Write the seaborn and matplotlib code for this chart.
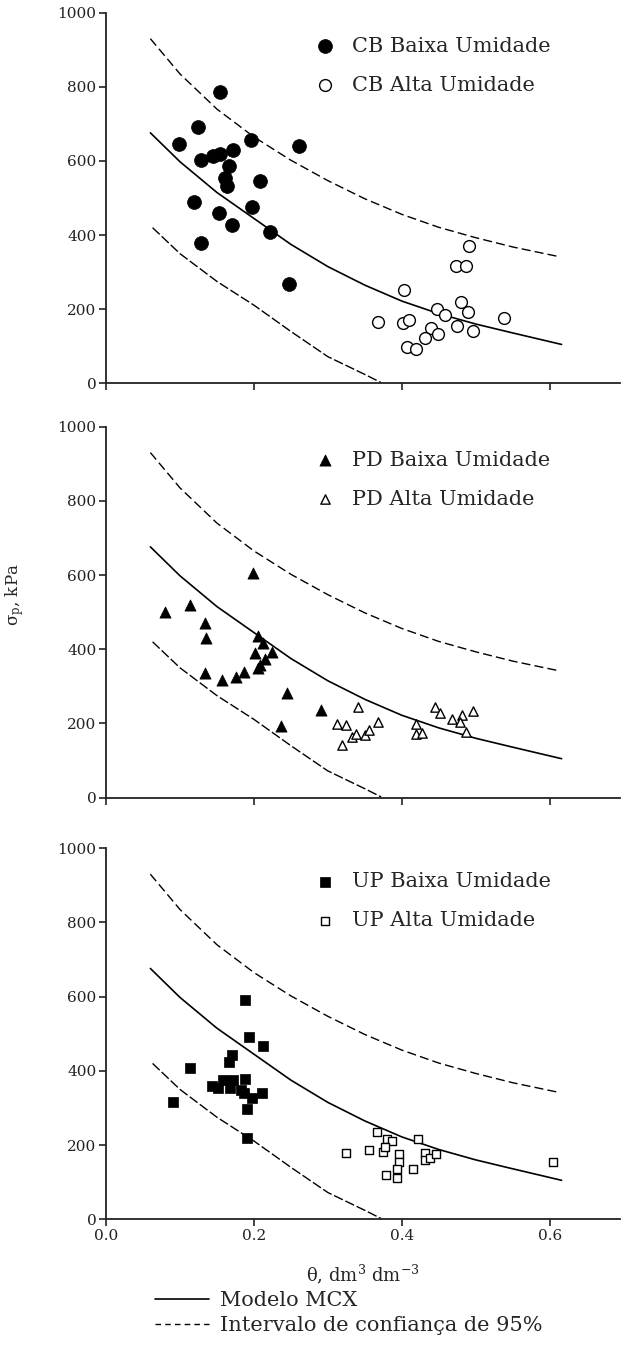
"""
Pressão de preconsolidação em função da umidade do solo
três painéis (CB, PD, UP) com modelo MCX e intervalo de confiança
"""

import matplotlib
matplotlib.use('Agg')
import matplotlib.pyplot as plt
from matplotlib.lines import Line2D
import pandas as pd
import seaborn as sns

# curvas (iguais nos três painéis)
theta_modelo = [0.06, 0.10, 0.15, 0.20, 0.25, 0.30, 0.35, 0.40, 0.45, 0.50, 0.55, 0.616]
sigma_modelo = [676, 598, 515, 445, 375, 315, 265, 222, 188, 160, 136, 105]
theta_sup = [0.06, 0.10, 0.15, 0.20, 0.25, 0.30, 0.35, 0.40, 0.45, 0.50, 0.55, 0.61]
sigma_sup = [930, 835, 740, 665, 602, 547, 498, 456, 421, 393, 368, 343]
theta_inf = [0.063, 0.10, 0.15, 0.20, 0.25, 0.30, 0.35, 0.372]
sigma_inf = [420, 350, 275, 211, 140, 72, 24, 2]

# CB
cb_baixa_x = [0.154, 0.124, 0.099, 0.128, 0.145, 0.154, 0.172, 0.196, 0.261, 0.166,
              0.161, 0.163, 0.208, 0.119, 0.153, 0.198, 0.171, 0.128, 0.222, 0.247]
cb_baixa_y = [785, 692, 646, 603, 614, 618, 629, 656, 641, 586,
              553, 533, 546, 490, 460, 477, 427, 380, 409, 268]
cb_alta_x = [0.491, 0.473, 0.487, 0.403, 0.368, 0.402, 0.410, 0.448, 0.458, 0.480,
             0.490, 0.439, 0.449, 0.432, 0.474, 0.496, 0.538, 0.407, 0.419]
cb_alta_y = [371, 317, 317, 252, 166, 162, 171, 201, 184, 219,
             192, 150, 132, 123, 156, 141, 175, 99, 94]

# PD
pd_baixa_x = [0.199, 0.080, 0.114, 0.134, 0.135, 0.206, 0.212, 0.201, 0.225, 0.215,
              0.208, 0.206, 0.134, 0.157, 0.176, 0.186, 0.245, 0.291, 0.237]
pd_baixa_y = [605, 501, 519, 472, 429, 436, 416, 391, 392, 373,
              358, 349, 335, 317, 326, 340, 283, 236, 193]
pd_alta_x = [0.341, 0.313, 0.325, 0.319, 0.332, 0.338, 0.350, 0.355, 0.368, 0.419,
             0.419, 0.427, 0.445, 0.451, 0.468, 0.481, 0.478, 0.496, 0.487]
pd_alta_y = [245, 199, 196, 142, 164, 171, 169, 181, 205, 199,
             172, 175, 243, 229, 211, 223, 205, 234, 176]

# UP
up_baixa_x = [0.188, 0.194, 0.212, 0.171, 0.166, 0.113, 0.144, 0.151, 0.158, 0.172,
              0.168, 0.188, 0.183, 0.186, 0.198, 0.211, 0.091, 0.190, 0.190]
up_baixa_y = [591, 490, 468, 443, 425, 408, 360, 353, 376, 376,
              353, 377, 349, 340, 328, 340, 317, 297, 220]
up_alta_x = [0.366, 0.380, 0.387, 0.422, 0.324, 0.356, 0.375, 0.377, 0.396, 0.396,
             0.394, 0.393, 0.378, 0.415, 0.432, 0.431, 0.438, 0.446, 0.605]
up_alta_y = [234, 216, 212, 217, 178, 187, 182, 194, 175, 155,
             136, 112, 118, 135, 178, 160, 164, 175, 155]

paineis = [
    ('CB', 'o', (cb_baixa_x, cb_baixa_y, 100), (cb_alta_x, cb_alta_y, 72)),
    ('PD', '^', (pd_baixa_x, pd_baixa_y, 65), (pd_alta_x, pd_alta_y, 45)),
    ('UP', 's', (up_baixa_x, up_baixa_y, 50), (up_alta_x, up_alta_y, 38)),
]

sns.set_style('ticks')
plt.rcParams['font.family'] = ['DejaVu Serif']
plt.rcParams['mathtext.fontset'] = 'dejavuserif'

fig = plt.figure(figsize=(6.25, 13.57), dpi=100)
posicoes = [
    [106 / 625, 0.7175, 514 / 625, 0.2731],
    [106 / 625, 0.4122, 514 / 625, 0.2734],
    [106 / 625, 0.1015, 514 / 625, 0.2734],
]

curvas = pd.DataFrame({'theta': theta_modelo, 'sigma': sigma_modelo})
curva_sup = pd.DataFrame({'theta': theta_sup, 'sigma': sigma_sup})
curva_inf = pd.DataFrame({'theta': theta_inf, 'sigma': sigma_inf})

for i, (nome, marcador, baixa, alta) in enumerate(paineis):
    ax = fig.add_axes(posicoes[i])

    sns.lineplot(data=curvas, x='theta', y='sigma', ax=ax, color='black', lw=1.2)
    sns.lineplot(data=curva_sup, x='theta', y='sigma', ax=ax, color='black', lw=1.0,
                 linestyle=(0, (6.5, 3)))
    sns.lineplot(data=curva_inf, x='theta', y='sigma', ax=ax, color='black', lw=1.0,
                 linestyle=(0, (7, 2)))

    sns.scatterplot(x=baixa[0], y=baixa[1], ax=ax, marker=marcador, s=baixa[2],
                    color='black', edgecolor='black', linewidth=0.5,
                    label=f'{nome} Baixa Umidade', zorder=3)
    sns.scatterplot(x=alta[0], y=alta[1], ax=ax, marker=marcador, s=alta[2],
                    color='white', edgecolor='black', linewidth=1.0,
                    label=f'{nome} Alta Umidade', zorder=3)

    ax.set_xlim(0, 0.695)
    ax.set_ylim(0, 1000)
    ax.set_xticks([0.0, 0.2, 0.4, 0.6])
    ax.set_yticks([0, 200, 400, 600, 800, 1000])
    ax.set_xticklabels(['0.0', '0.2', '0.4', '0.6'])
    ax.set_xlabel('')
    ax.set_ylabel('')
    sns.despine(ax=ax)
    for s in ['left', 'bottom']:
        ax.spines[s].set_linewidth(1.3)
        ax.spines[s].set_color('#222222')
    ax.tick_params(direction='out', length=5, width=1.2, labelsize=11, pad=2,
                   colors='#222222')
    if i < 2:
        ax.tick_params(labelbottom=False)
    else:
        ax.set_xlabel('θ, dm$^{3}$ dm$^{-3}$', fontsize=13, labelpad=14)

    ax.legend(loc='upper left', bbox_to_anchor=(0.385, 0.935), frameon=False,
              fontsize=15, handletextpad=0.3, labelspacing=0.95, borderaxespad=0,
              borderpad=0)

fig.text(15 / 625, 1 - 595 / 1357, 'σ$_\\mathrm{p}$, kPa', rotation=90,
         ha='center', va='center', fontsize=12)

# legenda das curvas
alcas = [Line2D([], [], color='black', lw=1.2),
         Line2D([], [], color='black', lw=1.0, linestyle=(0, (4, 3)))]
fig.legend(alcas, ['Modelo MCX', 'Intervalo de confiança de 95%'],
           loc='upper left', bbox_to_anchor=(155 / 625, 1 - 1291 / 1357),
           frameon=False, fontsize=15, handlelength=2.6, handletextpad=0.5,
           labelspacing=0.3, borderaxespad=0, borderpad=0)

fig.savefig('out.png', dpi=100)
